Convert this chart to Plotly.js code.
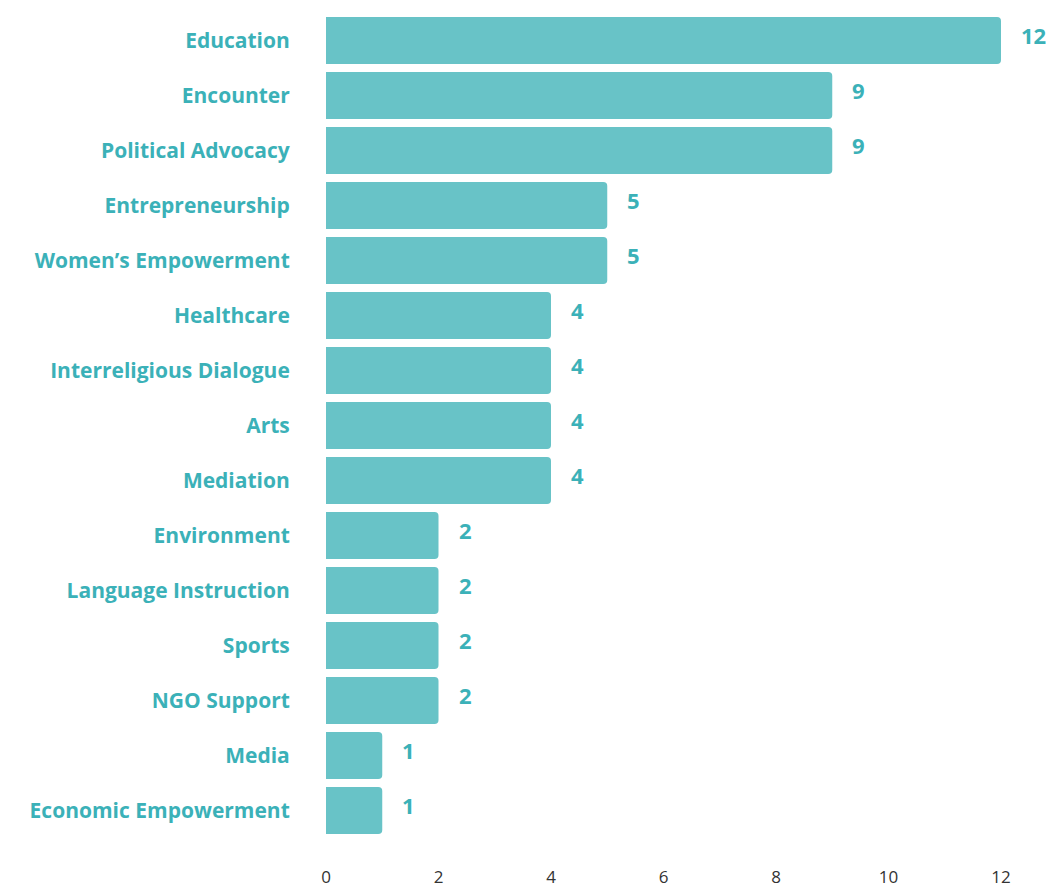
<!DOCTYPE html>
<html><head><meta charset="utf-8">
<script src="https://cdn.plot.ly/plotly-3.0.1.min.js"></script>
<style>html,body{margin:0;padding:0;background:#fff}</style>
</head><body>
<div id="chart" style="width:1048px;height:891px"></div>
<script>
const categories = ["Education","Encounter","Political Advocacy","Entrepreneurship","Women\u2019s Empowerment","Healthcare","Interreligious Dialogue","Arts","Mediation","Environment","Language Instruction","Sports","NGO Support","Media","Economic Empowerment"];
const values = [12,9,9,5,5,4,4,4,4,2,2,2,2,1,1];
const xTicks = [0,2,4,6,8,10,12];

const barColor = '#68c3c7';
const textColor = '#3bb1b8';

const annotations = categories.map((c,i)=>({
  x: values[i], y: c, xref:'x', yref:'y', text: String(values[i]),
  showarrow:false, xanchor:'left', yanchor:'middle', xshift:18, yshift:6,
  font:{family:'Open Sans', size:22, color:textColor, weight:700}
}));

Plotly.newPlot('chart',[{
  type:'bar', orientation:'h', y:categories, x:values,
  marker:{color:barColor, cornerradius:4},
  hoverinfo:'skip'
}],{
  width:1048, height:891,
  margin:{l:326, r:47, t:13, b:53},
  paper_bgcolor:'#fff', plot_bgcolor:'#fff',
  bargap:0.145,
  showlegend:false,
  xaxis:{range:[0,12], tickvals:xTicks, showgrid:false, zeroline:false, showline:false,
    ticks:'outside', ticklen:24, tickcolor:'rgba(0,0,0,0)',
    tickfont:{family:'Open Sans', size:17, color:'#333'}},
  yaxis:{autorange:'reversed', showgrid:false, zeroline:false, showline:false,
    ticks:'outside', ticklen:31, tickcolor:'rgba(0,0,0,0)',
    tickfont:{family:'Open Sans', size:21, color:textColor, weight:700}},
  annotations:annotations
},{displayModeBar:false, staticPlot:true});
</script>
</body></html>
